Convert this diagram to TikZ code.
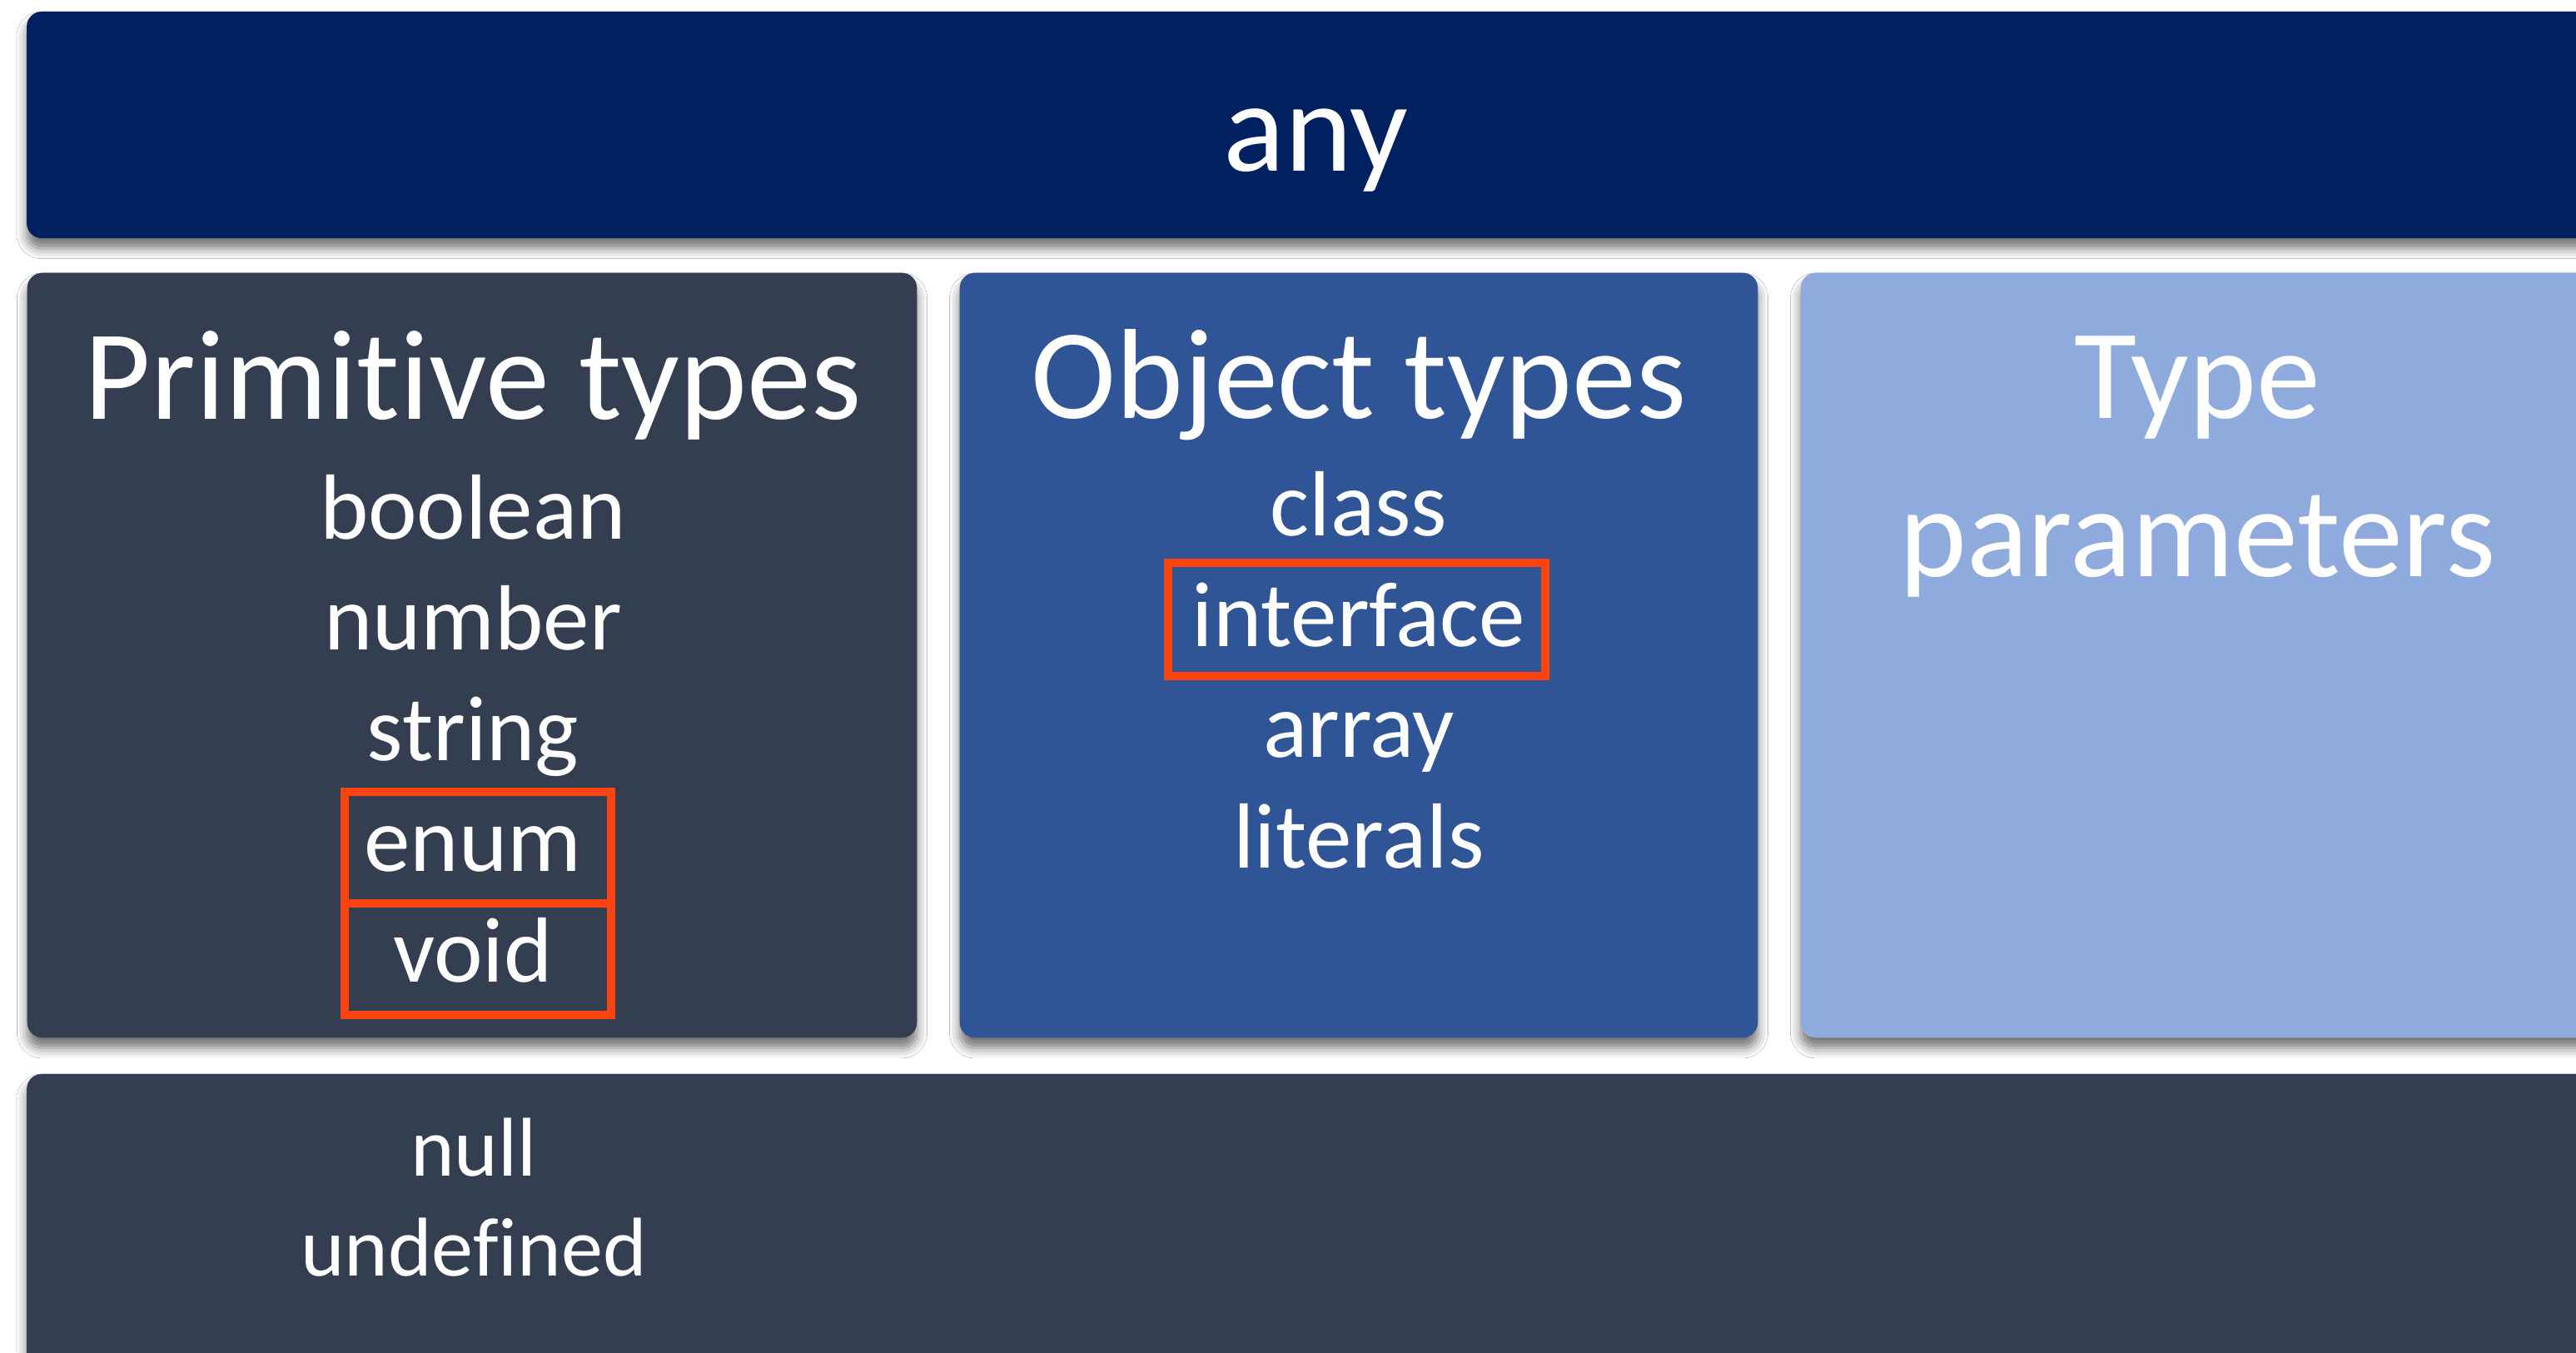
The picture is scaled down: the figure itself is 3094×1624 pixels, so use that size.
\documentclass[tikz,border=0pt]{standalone}
\usepackage{fontspec}
\setmainfont{Carlito}[Ligatures={NoCommon}]
\usetikzlibrary{shadows.blur}
\definecolor{anyblue}{RGB}{0,32,96}
\definecolor{slate}{RGB}{51,63,80}
\definecolor{objblue}{RGB}{47,85,151}
\definecolor{paleblue}{RGB}{143,170,220}
\definecolor{hilite}{RGB}{252,68,16}
\begin{document}
\begin{tikzpicture}[x=0.01cm,y=-0.01cm,
  panel/.style={rounded corners=0.18cm, inner sep=0pt, outer sep=0pt, draw=none,
    blur shadow={shadow xshift=0pt, shadow yshift=-3.5pt, shadow blur radius=3.5pt, shadow opacity=55}},
  bigtitle/.style={anchor=base, text=white, font=\fontsize{43.8}{52}\selectfont, inner sep=0pt},
  entry/.style={anchor=base, text=white, font=\fontsize{31.6}{38}\selectfont, inner sep=0pt},
  smallentry/.style={anchor=base, text=white, font=\fontsize{28.5}{34}\selectfont, inner sep=0pt},
  redframe/.style={draw=hilite, line width=0.105cm, inner sep=0pt, outer sep=0pt, fill=none}
]
\useasboundingbox (0,0) rectangle (3094,1624);
\fill[white] (0,0) rectangle (3094,1624);
\begin{scope}
\clip (0,0) rectangle (3094,1624);
% panels
\node[panel, fill=anyblue, minimum width=30.94cm, minimum height=2.72cm] (anybar) at (1580,150) {};
\node[panel, fill=slate, minimum width=10.68cm, minimum height=9.18cm] (prim) at (567,787) {};
\node[panel, fill=objblue, minimum width=9.58cm, minimum height=9.18cm] (obj) at (1632,787) {};
\node[panel, fill=paleblue, minimum width=9.52cm, minimum height=9.18cm] (tparam) at (2639,787) {};
\node[panel, fill=slate, minimum width=30.94cm, minimum height=4.10cm] (bottom) at (1580,1495) {};
% texts
\node[bigtitle] (anytxt) at (1580,205) {any};
\node[bigtitle] (primtitle) at (568,503) {Primitive types};
\node[entry] (boolean) at (568,647) {boolean};
\node[entry] (number) at (568,780) {number};
\node[entry] (string) at (568,913) {string};
\node[entry] (enum) at (568,1046) {enum};
\node[entry] (void) at (568,1179) {void};
\node[bigtitle] (objtitle) at (1632,502) {Object types};
\node[entry] (class) at (1632,643) {class};
\node[entry] (interface) at (1632,776) {interface};
\node[entry] (array) at (1632,909) {array};
\node[entry] (literals) at (1632,1042) {literals};
\node[bigtitle] (typeA) at (2639,502) {Type};
\node[bigtitle] (typeB) at (2639,692) {parameters};
\node[smallentry] (null) at (569,1412) {null};
\node[smallentry] (undefined) at (569,1532) {undefined};
% highlight frames
\node[redframe, minimum width=3.2cm, minimum height=1.34cm] (enumframe) at (574,1018) {};
\node[redframe, minimum width=3.2cm, minimum height=1.34cm] (voidframe) at (574,1152) {};
\node[redframe, minimum width=4.53cm, minimum height=1.36cm] (ifaceframe) at (1629.5,744) {};
\end{scope}
\end{tikzpicture}
\end{document}
